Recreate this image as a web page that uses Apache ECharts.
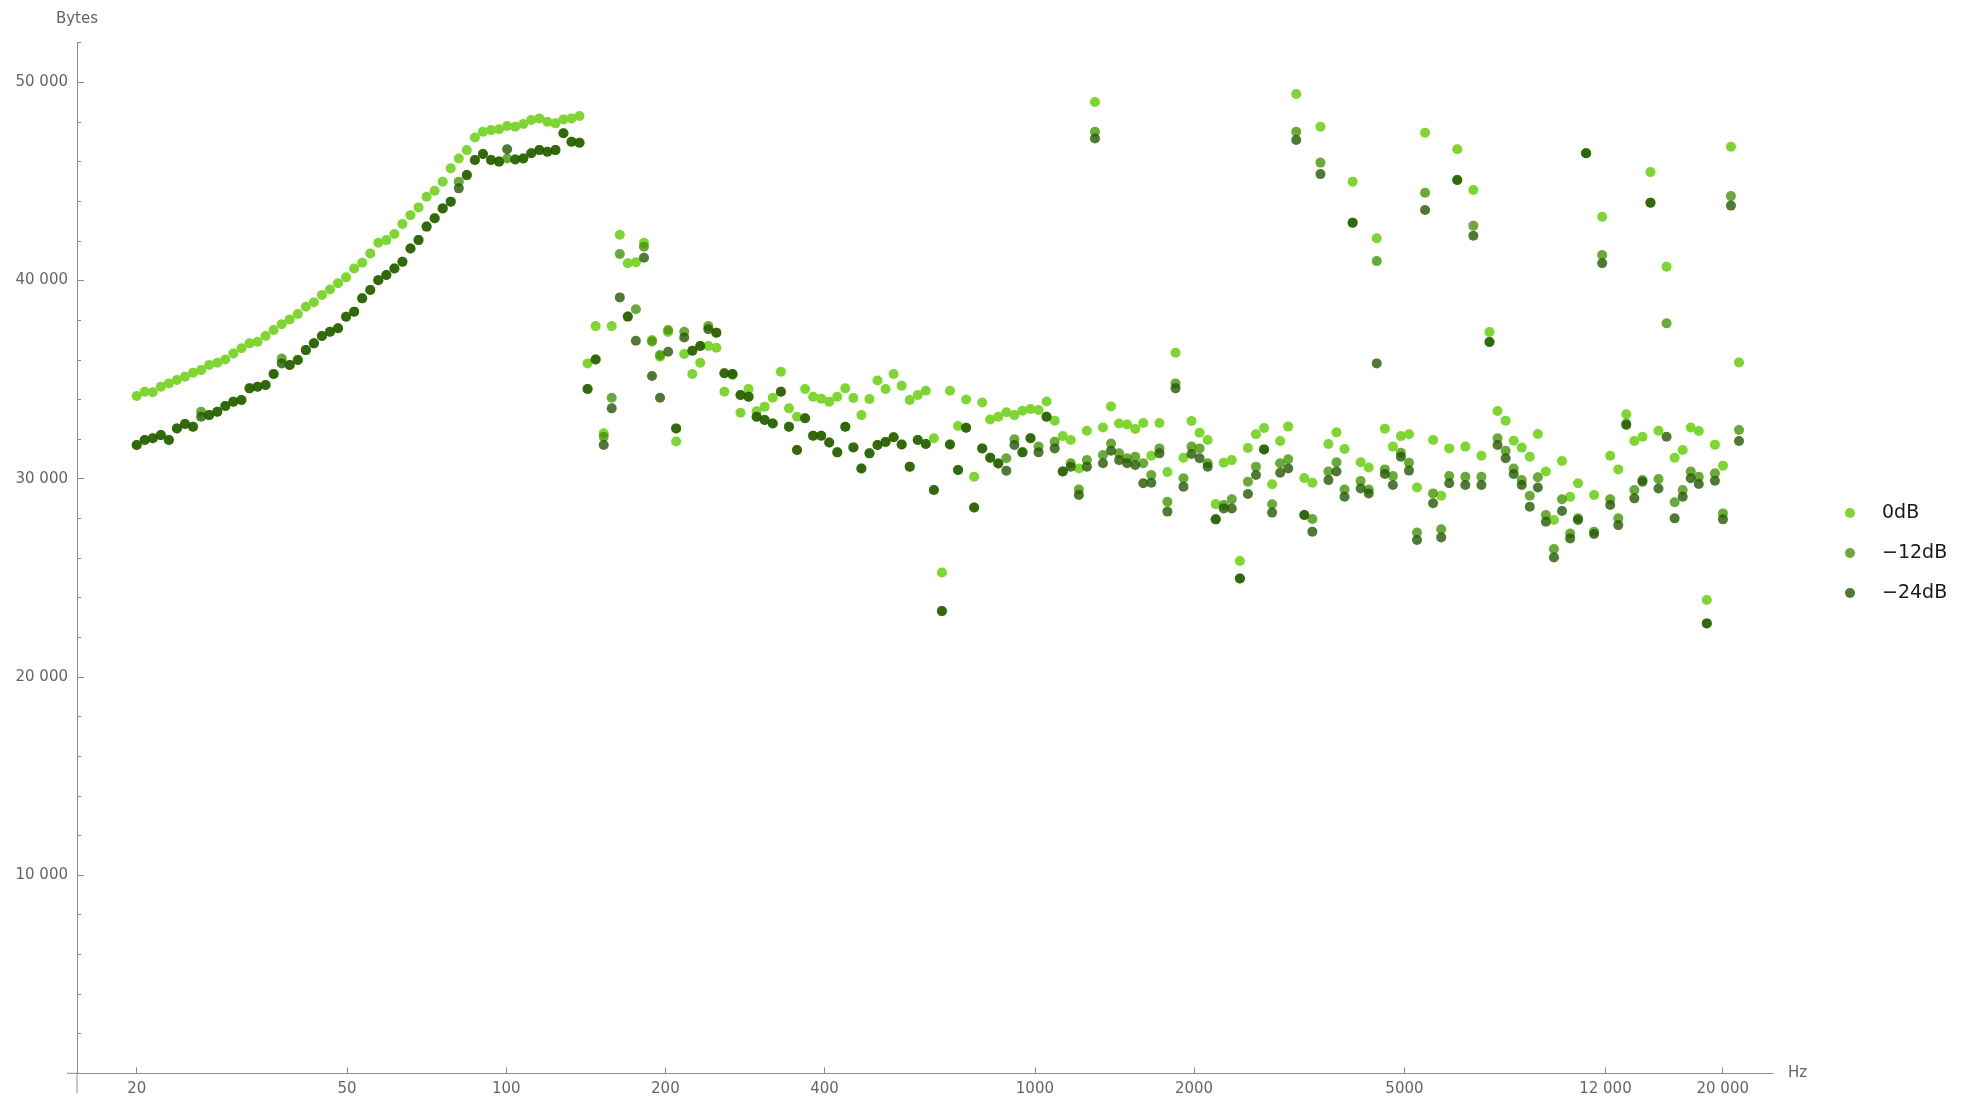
<!DOCTYPE html>
<html>
<head>
<meta charset="utf-8">
<script src="https://cdn.jsdelivr.net/npm/echarts@6/dist/echarts.min.js"></script>
<style>
  html, body { margin: 0; padding: 0; background: #ffffff; }
  #chart { width: 1971px; height: 1105px; }
</style>
</head>
<body>
<div id="chart"></div>
<script>
// Test-tone frequencies (Hz), shared by all three level series
const hz = [
  20.00, 20.71, 21.45, 22.22, 23.01, 23.83, 24.68, 25.56, 26.48, 27.42,
  28.41, 29.42, 30.47, 31.56, 32.69, 33.85, 35.06, 36.31, 37.61, 38.95,
  40.34, 41.78, 43.27, 44.81, 46.41, 48.07, 49.78, 51.56, 53.40, 55.31,
  57.28, 59.32, 61.44, 63.63, 65.90, 68.25, 70.69, 73.21, 75.82, 78.53,
  81.33, 84.23, 87.24, 90.35, 93.58, 96.92, 100.4, 104.0, 107.7, 111.5,
  115.5, 119.6, 123.9, 128.3, 132.9, 137.6, 142.5, 147.6, 152.9, 158.3,
  164.0, 169.8, 175.9, 182.2, 188.7, 195.4, 202.4, 209.6, 217.1, 224.9,
  232.8, 241.1, 249.7, 258.6, 267.9, 277.4, 287.3, 297.6, 308.2, 319.2,
  330.8, 342.6, 354.8, 367.5, 380.6, 394.2, 408.3, 422.8, 437.9, 453.6,
  469.7, 486.5, 503.8, 521.8, 540.4, 559.7, 579.7, 600.4, 621.8, 644.0,
  667.0, 690.8, 715.5, 741.0, 767.5, 794.9, 823.2, 852.6, 883.0, 914.6,
  947.2, 981.0, 1016, 1052, 1090, 1129, 1169, 1211, 1254, 1299,
  1345, 1393, 1443, 1494, 1548, 1603, 1660, 1720, 1781, 1845,
  1910, 1978, 2049, 2122, 2198, 2276, 2357, 2442, 2529, 2619,
  2713, 2810, 2910, 3014, 3121, 3233, 3348, 3468, 3591, 3719,
  3852, 3990, 4132, 4280, 4432, 4591, 4755, 4924, 5100, 5282,
  5470, 5665, 5868, 6077, 6294, 6519, 6751, 6992, 7242, 7500,
  7770, 8047, 8334, 8632, 8940, 9259, 9589, 9931, 10290, 10650,
  11030, 11420, 11830, 12250, 12690, 13140, 13610, 14100, 14600, 15120,
  15660, 16220, 16800, 17400, 18020, 18660, 19330, 20020, 20730, 21470
];

// Encoded size in bytes at 0 dB
const bytes0dB = [
  34170, 34390, 34360, 34640, 34810, 34980, 35150, 35350, 35480, 35740,
  35850, 36020, 36320, 36580, 36830, 36910, 37200, 37500, 37800, 38040,
  38310, 38680, 38900, 39270, 39550, 39860, 40160, 40610, 40900, 41370,
  41910, 42040, 42350, 42850, 43300, 43690, 44230, 44530, 44990, 45660,
  46160, 46580, 47220, 47510, 47590, 47630, 47800, 47760, 47900, 48100,
  48180, 48010, 47930, 48130, 48180, 48300, 35820, 37700, 32290, 37700,
  42310, 40870, 40920, 41900, 37000, 36160, 37400, 31880, 36290, 35280,
  35850, 36700, 36610, 34390, 35230, 33330, 34530, 33400, 33630, 34090,
  35400, 33550, 33130, 34530, 34140, 34040, 33890, 34140, 34560, 34070,
  33210, 34020, 34960, 34530, 35280, 34690, 33970, 34220, 34440, 32040,
  25270, 34440, 32660, 34000, 30100, 33850, 32990, 33130, 33350, 33210,
  33430, 33520, 33470, 33900, 32930, 32150, 31950, 30520, 32420, 49010,
  32580, 33650, 32790, 32740, 32510, 32810, 31160, 32810, 30340, 36360,
  31060, 32910, 32320, 31950, 28720, 30810, 30940, 25850, 31550, 32240,
  32560, 29720, 31900, 32630, 49410, 30040, 29800, 47760, 31750, 32340,
  31500, 44990, 30830, 30570, 42130, 32520, 31620, 32150, 32240, 29560,
  47460, 31950, 29140, 31530, 46620, 31620, 44570, 31160, 37400, 33420,
  32930, 31920, 31570, 31110, 32260, 30360, 27920, 30890, 29090, 29770,
  46420, 29180, 43220, 31160, 30470, 33250, 31900, 32120, 45470, 32420,
  40700, 31060, 31450, 32580, 32410, 23880, 31720, 30660, 46750, 35870
];

// Encoded size in bytes at -12 dB
const bytesMinus12dB = [
  31700, 31950, 32040, 32200, 31950, 32540, 32760, 32620, 33380, 33210,
  33380, 33670, 33890, 33970, 34560, 34640, 34730, 35280, 36070, 35740,
  35990, 36490, 36830, 37200, 37420, 37590, 38170, 38430, 39100, 39520,
  40020, 40280, 40610, 40950, 41620, 42040, 42720, 43140, 43640, 43980,
  44990, 45320, 46080, 46380, 46080, 46000, 46160, 46110, 46160, 46420,
  46580, 46500, 46580, 47430, 47000, 46950, 34525, 36020, 32120, 34090,
  41340, 38180, 38550, 41710, 36920, 36240, 37500, 32540, 37420, 36460,
  36700, 37700, 37370, 35320, 35280, 34220, 34140, 33130, 32960, 32790,
  34390, 32620, 31450, 33050, 32170, 32170, 31830, 31330, 32620, 31580,
  30520, 31280, 31700, 31850, 32090, 31730, 30610, 31950, 31750, 29430,
  23320, 31730, 30440, 32570, 28550, 31530, 31060, 30770, 31030, 31990,
  31330, 32040, 31620, 33130, 31870, 30360, 30780, 29460, 30940, 47510,
  31200, 31780, 31280, 31030, 31110, 30780, 30190, 31530, 28840, 34810,
  30020, 31620, 31530, 30780, 27950, 28670, 28960, 24970, 29850, 30610,
  31480, 28710, 30780, 30980, 47510, 28170, 27970, 45950, 30360, 30830,
  29460, 42920, 29880, 29460, 40980, 30470, 30140, 31310, 30810, 27290,
  44430, 29260, 27450, 30140, 45070, 30100, 42770, 30100, 36900, 32040,
  31410, 30520, 29930, 29140, 30070, 28170, 26450, 28960, 27240, 28000,
  46420, 27330, 41290, 28960, 28000, 32790, 29430, 29930, 43930, 29990,
  37840, 28810, 29430, 30360, 30100, 22700, 30270, 28250, 44260, 32460
];

// Encoded size in bytes at -24 dB
const bytesMinus24dB = [
  31700, 31950, 32040, 32200, 31950, 32540, 32760, 32620, 33130, 33210,
  33380, 33670, 33890, 33970, 34560, 34640, 34730, 35280, 35820, 35740,
  35990, 36490, 36830, 37200, 37420, 37590, 38170, 38430, 39100, 39520,
  40020, 40280, 40610, 40950, 41620, 42040, 42720, 43140, 43640, 43980,
  44650, 45320, 46080, 46380, 46080, 46000, 46620, 46110, 46160, 46420,
  46580, 46500, 46580, 47430, 47000, 46950, 34525, 36020, 31700, 33550,
  39150, 38180, 36960, 41150, 35180, 34090, 36410, 32540, 37130, 36460,
  36700, 37540, 37370, 35320, 35280, 34220, 34140, 33130, 32960, 32790,
  34390, 32620, 31450, 33050, 32170, 32170, 31830, 31330, 32620, 31580,
  30520, 31280, 31700, 31850, 32090, 31730, 30610, 31950, 31750, 29430,
  23320, 31730, 30440, 32570, 28550, 31530, 31060, 30770, 30400, 31700,
  31330, 32040, 31330, 33130, 31530, 30360, 30610, 29180, 30610, 47170,
  30780, 31410, 30940, 30780, 30690, 29770, 29800, 31280, 28340, 34560,
  29600, 31250, 31030, 30610, 27950, 28500, 28500, 24970, 29230, 30190,
  31480, 28290, 30300, 30520, 47090, 28170, 27330, 45370, 29930, 30360,
  29090, 42920, 29510, 29260, 35820, 30240, 29680, 31110, 30410, 26910,
  43560, 28760, 27040, 29770, 45070, 29680, 42260, 29680, 36900, 31700,
  31030, 30240, 29680, 28590, 29560, 27830, 26030, 28370, 26990, 27920,
  46420, 27210, 40870, 28670, 27660, 32710, 29010, 29850, 43930, 29510,
  32120, 28000, 29090, 30020, 29730, 22700, 29900, 27950, 43780, 31900
];

const seriesNames = ['0dB', '\u221212dB', '\u221224dB'];

// Axis tick positions
const xTickValues = [20, 50, 100, 200, 400, 1000, 2000, 5000, 12000, 20000];
const yLabelValues = [10000, 20000, 30000, 40000, 50000];
const yMinorTickValues = [
  0, 2000, 4000, 6000, 8000, 10000, 12000, 14000, 16000, 18000, 20000,
  22000, 24000, 26000, 28000, 30000, 32000, 34000, 36000, 38000, 40000,
  42000, 44000, 46000, 48000, 50000, 52000
];

const X_MIN = 15.42;
const X_MAX = 24896;
const FONT = "'DejaVu Sans', sans-serif";
const AXIS_GRAY = '#8c8c8c';
const LABEL_GRAY = '#666666';

// Numbers of five or more digits get a space before the thousands group
function groupDigits(v) {
  const s = String(Math.round(v));
  return s.length > 4 ? s.slice(0, s.length - 3) + ' ' + s.slice(-3) : s;
}

function pairs(values) {
  return hz.map((f, i) => [f, values[i]]);
}

const chart = echarts.init(document.getElementById('chart'), null, { renderer: 'canvas' });

const scatterBase = {
  type: 'scatter',
  symbol: 'circle',
  symbolSize: 10,
  xAxisIndex: 0,
  yAxisIndex: 0,
  silent: true,
  emphasis: { disabled: true }
};

chart.setOption({
  animation: false,
  backgroundColor: '#ffffff',
  grid: {
    left: 77, right: 198, top: 42.7, bottom: 31.7,
    containLabel: false,
    outerBoundsMode: 'none'
  },
  xAxis: {
    type: 'log',
    logBase: 10,
    min: X_MIN,
    max: X_MAX,
    name: 'Hz',
    nameLocation: 'end',
    nameGap: 15,
    nameTextStyle: { color: LABEL_GRAY, fontFamily: FONT, fontSize: 15 },
    axisLine: { show: true, onZero: false, lineStyle: { color: AXIS_GRAY, width: 1 } },
    axisTick: { show: true, inside: true, length: 6, customValues: xTickValues,
                lineStyle: { color: AXIS_GRAY, width: 1 } },
    minorTick: { show: false },
    axisLabel: { show: true, customValues: xTickValues, margin: 8,
                 color: LABEL_GRAY, fontFamily: FONT, fontSize: 15,
                 formatter: v => groupDigits(v) },
    splitLine: { show: false }
  },
  yAxis: [
    {
      // axis line with the short ticks every 2000
      type: 'value',
      position: 'left',
      min: 0,
      max: 52000,
      name: 'Bytes',
      nameLocation: 'end',
      nameGap: 16,
      nameTextStyle: { color: LABEL_GRAY, fontFamily: FONT, fontSize: 15 },
      axisLine: { show: true, onZero: false, lineStyle: { color: AXIS_GRAY, width: 1 } },
      axisTick: { show: true, inside: true, length: 4, customValues: yMinorTickValues,
                  lineStyle: { color: AXIS_GRAY, width: 1 } },
      axisLabel: { show: false },
      splitLine: { show: false }
    },
    {
      // long ticks and labels every 10000
      type: 'value',
      position: 'left',
      min: 0,
      max: 52000,
      axisLine: { show: false },
      axisTick: { show: true, inside: true, length: 7, customValues: yLabelValues,
                  lineStyle: { color: AXIS_GRAY, width: 1 } },
      axisLabel: { show: true, customValues: yLabelValues, margin: 9,
                   color: LABEL_GRAY, fontFamily: FONT, fontSize: 15,
                   formatter: v => groupDigits(v) },
      splitLine: { show: false }
    }
  ],
  legend: {
    data: seriesNames,
    orient: 'vertical',
    left: 1840,
    top: 498,
    icon: 'circle',
    itemWidth: 54,
    itemHeight: 10,
    itemGap: 20,
    selectedMode: false,
    textStyle: { color: '#1a1a1a', fontFamily: FONT, fontSize: 19, lineHeight: 20 }
  },
  series: [
    Object.assign({}, scatterBase, {
      name: seriesNames[0],
      itemStyle: { color: 'rgb(126,214,50)', opacity: 1 },
      data: pairs(bytes0dB)
    }),
    Object.assign({}, scatterBase, {
      name: seriesNames[1],
      itemStyle: { color: 'rgb(69,149,6)', opacity: 0.8 },
      data: pairs(bytesMinus12dB)
    }),
    Object.assign({}, scatterBase, {
      name: seriesNames[2],
      itemStyle: { color: 'rgb(36,89,0)', opacity: 0.8 },
      data: pairs(bytesMinus24dB)
    })
  ]
});

// The two axes cross each other: each line runs a little past the origin
const origin = chart.convertToPixel({ xAxisIndex: 0, yAxisIndex: 0 }, [X_MIN, 0]);
const axisOverrun = { stroke: AXIS_GRAY, lineWidth: 1 };
chart.setOption({
  graphic: [
    { type: 'line', silent: true,
      shape: { x1: origin[0], y1: origin[1], x2: origin[0], y2: origin[1] + 20 },
      style: axisOverrun },
    { type: 'line', silent: true,
      shape: { x1: origin[0] - 10, y1: origin[1], x2: origin[0], y2: origin[1] },
      style: axisOverrun }
  ]
});
</script>
</body>
</html>
